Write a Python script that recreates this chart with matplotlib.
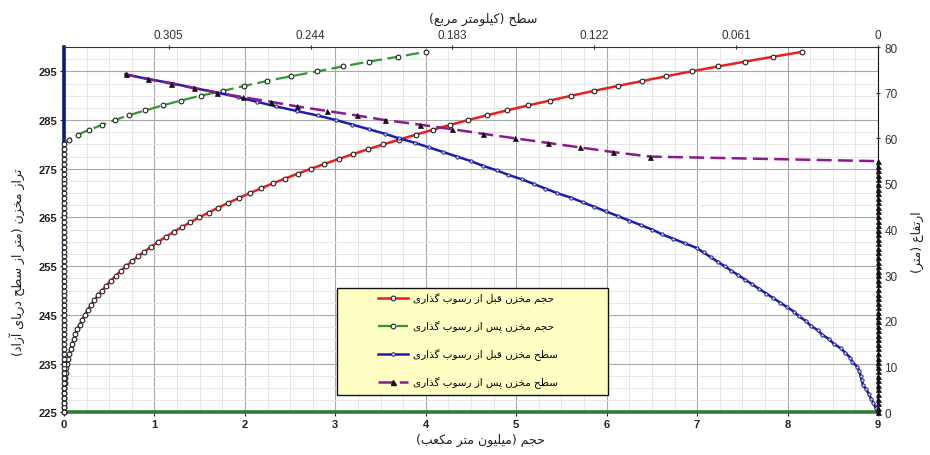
import matplotlib.pyplot as plt
from matplotlib.ticker import MultipleLocator
from matplotlib.patches import Rectangle
from matplotlib.lines import Line2D

# reservoir elevation (m a.s.l.), one point per metre, and depth above the bed
elevation = list(range(225, 300))
depth = [e - 225 for e in elevation]

# storage volume (million m3) before sedimentation
vol_before = [0.000, 0.000, 0.000, 0.001, 0.003, 0.005, 0.009, 0.014, 0.019, 0.027,
              0.035, 0.046, 0.058, 0.072, 0.088, 0.106, 0.126, 0.148, 0.173, 0.200,
              0.230, 0.262, 0.297, 0.335, 0.376, 0.420, 0.467, 0.517, 0.571, 0.627,
              0.687, 0.751, 0.818, 0.889, 0.964, 1.042, 1.124, 1.211, 1.301, 1.396,
              1.495, 1.598, 1.704, 1.817, 1.933, 2.054, 2.180, 2.309, 2.445, 2.585,
              2.730, 2.880, 3.036, 3.195, 3.360, 3.531, 3.708, 3.889, 4.076, 4.269,
              4.467, 4.680, 4.900, 5.130, 5.370, 5.610, 5.860, 6.120, 6.390, 6.660,
              6.940, 7.230, 7.530, 7.840, 8.160]

# storage volume (million m3) after sedimentation: dead zone filled up to 280 m
vol_after = [0, 0, 0, 0, 0, 0, 0, 0, 0, 0, 0, 0, 0, 0, 0, 0, 0, 0, 0, 0,
             0, 0, 0, 0, 0, 0, 0, 0, 0, 0, 0, 0, 0, 0, 0, 0, 0, 0, 0, 0,
             0, 0, 0, 0, 0, 0, 0, 0, 0, 0, 0, 0, 0, 0, 0, 0,
             0.05, 0.15, 0.28, 0.42, 0.56, 0.72, 0.90, 1.09, 1.29, 1.51,
             1.76, 1.99, 2.24, 2.51, 2.80, 3.08, 3.37, 3.69, 4.00]

# water surface area (km2) before sedimentation
area_before = [0.000, 0.001, 0.002, 0.003, 0.004, 0.005, 0.0065, 0.007, 0.0075, 0.008,
               0.009, 0.011, 0.012, 0.014, 0.016, 0.019, 0.021, 0.024, 0.026, 0.029,
               0.031, 0.034, 0.036, 0.039, 0.042, 0.045, 0.048, 0.051, 0.054, 0.057,
               0.060, 0.063, 0.066, 0.069, 0.072, 0.075, 0.078, 0.083, 0.088, 0.093,
               0.097, 0.102, 0.107, 0.112, 0.117, 0.122, 0.127, 0.132, 0.138, 0.143,
               0.148, 0.153, 0.159, 0.164, 0.170, 0.175, 0.181, 0.187, 0.193, 0.199,
               0.206, 0.212, 0.219, 0.226, 0.233, 0.241, 0.250, 0.259, 0.267, 0.275,
               0.284, 0.294, 0.303, 0.314, 0.3235]

# water surface area (km2) after sedimentation
area_after = [0, 0, 0, 0, 0, 0, 0, 0, 0, 0, 0, 0, 0, 0, 0, 0, 0, 0, 0, 0,
              0, 0, 0, 0, 0, 0, 0, 0, 0, 0, 0, 0, 0, 0, 0, 0, 0, 0, 0, 0,
              0, 0, 0, 0, 0, 0, 0, 0, 0, 0, 0, 0, 0, 0, 0, 0,
              0.098, 0.114, 0.128, 0.142, 0.156, 0.170, 0.183, 0.197, 0.212, 0.224,
              0.237, 0.250, 0.261, 0.273, 0.284, 0.294, 0.304, 0.314, 0.3235]

vol_ticks = list(range(0, 10))
elev_ticks = list(range(225, 300, 10))
area_ticks = [0.305, 0.244, 0.183, 0.122, 0.061, 0]
area_labels = ['0.305', '0.244', '0.183', '0.122', '0.061', '0']
depth_ticks = list(range(0, 90, 10))

series_names = ['حجم مخزن قبل از رسوب گذاری',
                'حجم مخزن پس از رسوب گذاری',
                'سطح مخزن قبل از رسوب گذاری',
                'سطح مخزن پس از رسوب گذاری']
title_area = 'سطح (کیلومتر مربع)'
title_volume = 'حجم (میلیون متر مکعب)'
title_elev = 'تراز مخزن (متر از سطح دریای آزاد)'
title_depth = 'ارتفاع (متر)'


# matplotlib has no Arabic shaping, so pick presentation forms by hand
FORMS = {
    'ا': ('\uFE8D', '\uFE8E', None, None),
    'آ': ('\uFE81', '\uFE82', None, None),
    'ب': ('\uFE8F', '\uFE90', '\uFE91', '\uFE92'),
    'پ': ('\uFB56', '\uFB57', '\uFB58', '\uFB59'),
    'ت': ('\uFE95', '\uFE96', '\uFE97', '\uFE98'),
    'ج': ('\uFE9D', '\uFE9E', '\uFE9F', '\uFEA0'),
    'ح': ('\uFEA1', '\uFEA2', '\uFEA3', '\uFEA4'),
    'خ': ('\uFEA5', '\uFEA6', '\uFEA7', '\uFEA8'),
    'د': ('\uFEA9', '\uFEAA', None, None),
    'ذ': ('\uFEAB', '\uFEAC', None, None),
    'ر': ('\uFEAD', '\uFEAE', None, None),
    'ز': ('\uFEAF', '\uFEB0', None, None),
    'س': ('\uFEB1', '\uFEB2', '\uFEB3', '\uFEB4'),
    'ط': ('\uFEC1', '\uFEC2', '\uFEC3', '\uFEC4'),
    'ع': ('\uFEC9', '\uFECA', '\uFECB', '\uFECC'),
    'ف': ('\uFED1', '\uFED2', '\uFED3', '\uFED4'),
    'ق': ('\uFED5', '\uFED6', '\uFED7', '\uFED8'),
    'ک': ('\uFB8E', '\uFB8F', '\uFB90', '\uFB91'),
    'گ': ('\uFB92', '\uFB93', '\uFB94', '\uFB95'),
    'ل': ('\uFEDD', '\uFEDE', '\uFEDF', '\uFEE0'),
    'م': ('\uFEE1', '\uFEE2', '\uFEE3', '\uFEE4'),
    'ن': ('\uFEE5', '\uFEE6', '\uFEE7', '\uFEE8'),
    'و': ('\uFEED', '\uFEEE', None, None),
    'ی': ('\uFBFC', '\uFBFD', '\uFBFE', '\uFBFF'),
}
MIRROR = {'(': ')', ')': '('}


def fa(text):
    text = text.replace('ي', 'ی').replace('ك', 'ک')
    out = []
    for i, ch in enumerate(text):
        if ch not in FORMS:
            out.append(MIRROR.get(ch, ch))
            continue
        prev = text[i - 1] if i > 0 else ''
        nxt = text[i + 1] if i + 1 < len(text) else ''
        joins_prev = prev in FORMS and FORMS[prev][2] is not None
        joins_next = FORMS[ch][2] is not None and nxt in FORMS
        iso, fin, ini, med = FORMS[ch]
        if joins_prev and joins_next:
            out.append(med)
        elif joins_prev:
            out.append(fin)
        elif joins_next:
            out.append(ini)
        else:
            out.append(iso)
    return ''.join(reversed(out))


FA_FONT = ['DejaVu Sans']
NUM_FONT = ['Liberation Sans', 'DejaVu Sans']

W, H = 930, 456
left, right, top, bottom = 64, 878, 48, 413.3

fig = plt.figure(figsize=(W / 100, H / 100), dpi=100)
fig.patch.set_facecolor('white')
rect = [left / W, 1 - bottom / H, (right - left) / W, (bottom - top) / H]

# volume / elevation axes
ax = fig.add_axes(rect)
ax.set_xlim(0, 9)
ax.set_ylim(225, 300)
ax.set_xticks(vol_ticks)
ax.set_yticks(elev_ticks)
ax.xaxis.set_minor_locator(MultipleLocator(0.25))
ax.yaxis.set_minor_locator(MultipleLocator(2.5))
ax.grid(which='major', color='#a8a8a8', linewidth=0.8)
ax.grid(which='minor', color='#e4e4e4', linewidth=0.6)
ax.set_axisbelow(True)
ax.tick_params(which='minor', length=0)
ax.tick_params(axis='both', which='major', length=3, width=0.8, pad=2,
               labelsize=8, colors='#222222')
for lab in ax.get_xticklabels() + ax.get_yticklabels():
    lab.set_fontweight('bold')
    lab.set_family(NUM_FONT)
ax.spines['left'].set_color('#101880')
ax.spines['left'].set_linewidth(2.6)
ax.spines['bottom'].set_color('#2e7d32')
ax.spines['bottom'].set_linewidth(2.6)
ax.spines['top'].set_color('#333333')
ax.spines['right'].set_color('#111111')

ax.plot(vol_before, elevation, color='#ee1c1c', lw=1.8, marker='o', ms=3.4,
        mfc='white', mec='#222222', mew=0.8, clip_on=False, zorder=3)
ax.plot(vol_after, elevation, color='#2e9a2e', lw=1.6, ls=(0, (6, 2.5)),
        marker='o', ms=3.4, mfc='white', mec='#222222', mew=0.8,
        clip_on=False, zorder=3)

# area / depth axes (top and right)
ax2 = fig.add_axes(rect, frameon=False)
ax2.patch.set_visible(False)
ax2.set_xlim(0.35, 0)
ax2.set_ylim(0, 80)
ax2.xaxis.tick_top()
ax2.yaxis.tick_right()
ax2.set_xticks(area_ticks)
ax2.set_xticklabels(area_labels)
ax2.set_yticks(depth_ticks)
ax2.tick_params(axis='both', length=3, width=0.8, direction='inout', pad=3,
                labelsize=8.5, colors='#333333')
for lab in ax2.get_xticklabels() + ax2.get_yticklabels():
    lab.set_family(NUM_FONT)

ax2.plot(area_before, depth, color='#1c1cb4', lw=1.8, marker='o', ms=2.4,
         mfc='#c8c8f0', mec='#14147a', mew=0.6, clip_on=False, zorder=3)
ax2.plot(area_after, depth, color='#8c1a8c', lw=1.8, ls=(0, (6, 2.5)),
         marker='^', ms=3.6, mfc='#111111', mec='#111111', mew=0.5,
         clip_on=False, zorder=4)

# legend box
ax2.add_patch(Rectangle((0.3354, 0.047), 0.333, 0.293, transform=ax2.transAxes,
                        facecolor='#ffffc4', edgecolor='#111111', lw=1.0,
                        zorder=6))
handles = [
    Line2D([], [], color='#ee1c1c', lw=1.8, marker='o', ms=3.4, mfc='white',
           mec='#222222', mew=0.8),
    Line2D([], [], color='#2e9a2e', lw=1.6, ls=(0, (6, 2.5)), marker='o',
           ms=3.4, mfc='white', mec='#222222', mew=0.8),
    Line2D([], [], color='#1c1cb4', lw=1.8, marker='o', ms=2.6,
           mfc='#c8c8f0', mec='#14147a', mew=0.6),
    Line2D([], [], color='#8c1a8c', lw=1.8, ls=(0, (6, 2.5)), marker='^',
           ms=3.6, mfc='#111111', mec='#111111'),
]
leg = ax2.legend(handles, [fa(s) for s in series_names], loc='upper left',
                 bbox_to_anchor=(0.386, 0.326), frameon=False, borderpad=0,
                 borderaxespad=0, handlelength=2.9, handletextpad=0.4,
                 labelspacing=1.55, prop={'family': FA_FONT, 'size': 7.5})
leg.set_zorder(7)

# axis titles
fig.text(483 / W, 1 - 19 / H, fa(title_area), ha='center', va='center',
         fontsize=9, family=FA_FONT, color='#222222')
fig.text(480 / W, 1 - 440 / H, fa(title_volume), ha='center', va='center',
         fontsize=9, family=FA_FONT, color='#222222')
fig.text(17 / W, 1 - 262 / H, fa(title_elev), ha='center', va='center',
         rotation=90, fontsize=9, family=FA_FONT, color='#222222')
fig.text(917 / W, 1 - 242 / H, fa(title_depth), ha='center', va='center',
         rotation=90, fontsize=9, family=FA_FONT, color='#222222')

fig.savefig('out.png', dpi=100)
